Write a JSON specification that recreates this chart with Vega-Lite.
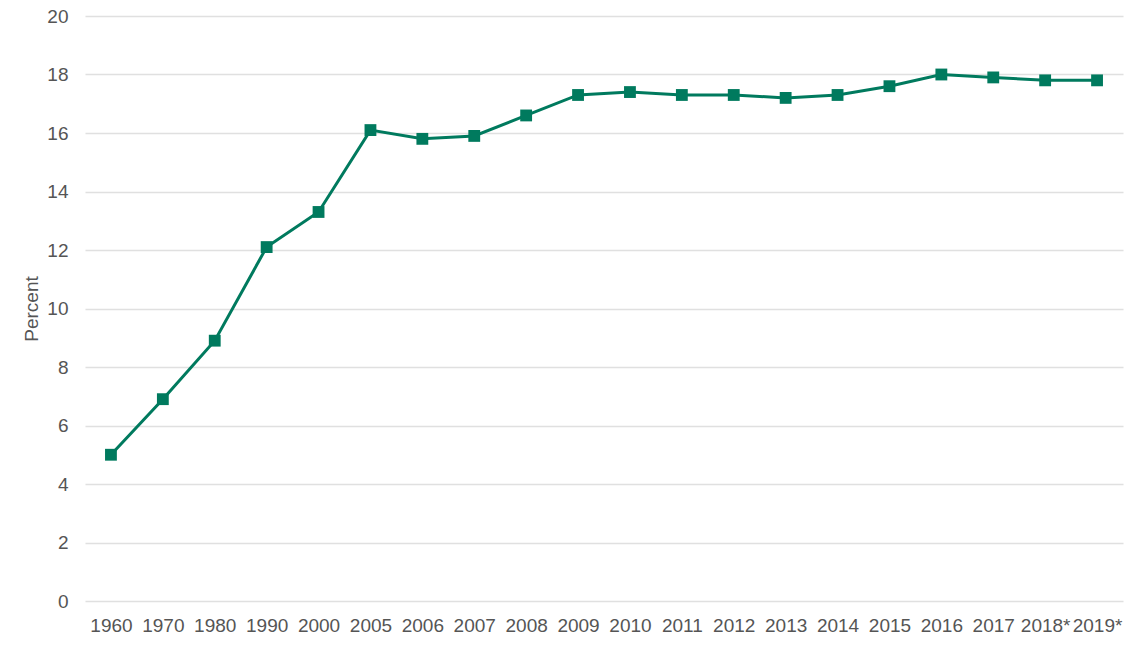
{
  "$schema": "https://vega.github.io/schema/vega-lite/v6.json",
  "width": 1038,
  "height": 585,
  "autosize": "none",
  "padding": {"left": 85, "top": 16, "right": 17, "bottom": 44},
  "background": "white",
  "config": {
    "view": {"stroke": null},
    "font": "Liberation Sans",
    "axis": {
      "labelFont": "Liberation Sans",
      "titleFont": "Liberation Sans",
      "labelColor": "#555555",
      "titleColor": "#555555",
      "labelFontSize": 19,
      "titleFontSize": 19,
      "titleFontWeight": "normal",
      "domain": false,
      "ticks": false
    }
  },
  "data": {
    "values": [
      {"year": "1960", "value": 5.0},
      {"year": "1970", "value": 6.9},
      {"year": "1980", "value": 8.9},
      {"year": "1990", "value": 12.1},
      {"year": "2000", "value": 13.3},
      {"year": "2005", "value": 16.1},
      {"year": "2006", "value": 15.8},
      {"year": "2007", "value": 15.9},
      {"year": "2008", "value": 16.6},
      {"year": "2009", "value": 17.3},
      {"year": "2010", "value": 17.4},
      {"year": "2011", "value": 17.3},
      {"year": "2012", "value": 17.3},
      {"year": "2013", "value": 17.2},
      {"year": "2014", "value": 17.3},
      {"year": "2015", "value": 17.6},
      {"year": "2016", "value": 18.0},
      {"year": "2017", "value": 17.9},
      {"year": "2018*", "value": 17.8},
      {"year": "2019*", "value": 17.8}
    ]
  },
  "encoding": {
    "x": {
      "field": "year",
      "type": "ordinal",
      "sort": null,
      "scale": {"type": "point", "padding": 0.5},
      "axis": {"title": null, "labelAngle": 0, "grid": false, "labelPadding": 15}
    },
    "y": {
      "field": "value",
      "type": "quantitative",
      "scale": {"domain": [0, 20], "nice": false},
      "axis": {
        "title": "Percent",
        "values": [0, 2, 4, 6, 8, 10, 12, 14, 16, 18, 20],
        "grid": true,
        "gridColor": "#e0e0e0",
        "gridWidth": 1.5,
        "labelPadding": 17,
        "titlePadding": 5
      }
    }
  },
  "layer": [
    {"mark": {"type": "line", "color": "#007a5e", "strokeWidth": 3}},
    {"mark": {"type": "point", "shape": "square", "filled": true, "color": "#007a5e", "opacity": 1, "size": 140}}
  ]
}
